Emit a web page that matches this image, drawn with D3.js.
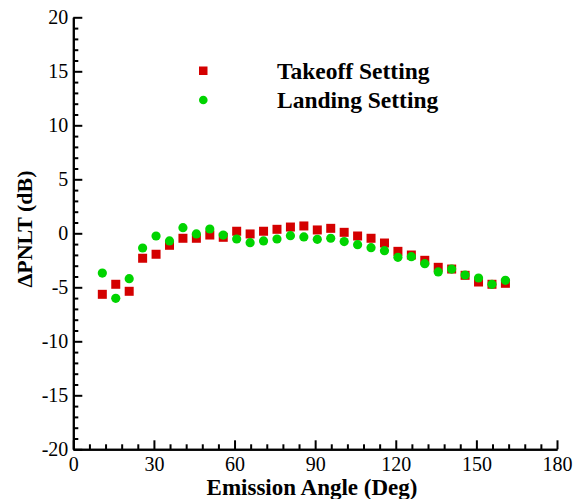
<!DOCTYPE html>
<html>
<head>
<meta charset="utf-8">
<script src="https://cdn.jsdelivr.net/npm/d3@7"></script>
<style>
  body { margin: 0; background: #fff; }
  svg text { font-family: "Liberation Serif", "Times New Roman", serif; }
</style>
</head>
<body>
<div id="chart"></div>
<script>
// emission angles (deg)
let angles = [10.8, 15.8, 20.8, 25.8, 30.8, 35.8, 40.8, 45.8, 50.8, 55.8,
  60.8, 65.8, 70.8, 75.8, 80.8, 85.8, 90.8, 95.8, 100.8, 105.8,
  110.8, 115.8, 120.8, 125.8, 130.8, 135.8, 140.8, 145.8, 150.8, 155.8, 160.8];

let takeoff = [-5.65, -4.72, -5.37, -2.31, -1.94, -1.11, -0.46, -0.46, -0.16, -0.37,
  0.19, -0.06, 0.19, 0.37, 0.58, 0.68, 0.31, 0.46, 0.09, -0.25,
  -0.46, -0.9, -1.67, -2.01, -2.5, -3.15, -3.31, -3.89, -4.51, -4.72, -4.63];

let landing = [-3.68, -6.02, -4.2, -1.36, -0.25, -0.71, 0.52, -0.06, 0.4, -0.16,
  -0.53, -0.87, -0.71, -0.53, -0.22, -0.34, -0.56, -0.46, -0.77, -1.05,
  -1.33, -1.61, -2.22, -2.16, -2.81, -3.58, -3.31, -3.86, -4.14, -4.72, -4.35];

let xTicks = [0, 30, 60, 90, 120, 150, 180];
let yTicks = [-20, -15, -10, -5, 0, 5, 10, 15, 20];

let w = 576, h = 499;
let red = "#d40000", green = "#00d400";

let svg = d3.select("#chart").append("svg")
  .attr("width", w).attr("height", h);

let x = d3.scaleLinear().domain([0, 180]).range([73.3, 557]);
let y = d3.scaleLinear().domain([-20, 20]).range([449.3, 17.3]);

let xMinor = d3.range(0, 181, 6).filter(d => d % 30 != 0);
let yMinor = d3.range(-20, 21, 1).filter(d => d % 5 != 0);

function styleAxis(g) {
  g.select(".domain").attr("stroke-width", 2).attr("stroke", "#000");
  g.selectAll(".tick line").attr("stroke-width", 2).attr("stroke", "#000");
  g.selectAll(".tick text").attr("font-size", 20).attr("fill", "#000");
}

// plain hyphen for negatives, like the original plot
let plain = d => String(d);

// minor ticks first so major ones sit on top
svg.append("g")
  .attr("transform", "translate(0," + y(-20) + ")")
  .call(d3.axisBottom(x).tickValues(xMinor).tickSize(-5).tickSizeOuter(0).tickFormat(""))
  .call(styleAxis);
svg.append("g")
  .attr("transform", "translate(" + x(0) + ",0)")
  .call(d3.axisLeft(y).tickValues(yMinor).tickSize(-5).tickSizeOuter(0).tickFormat(""))
  .call(styleAxis);

let xAxis = svg.append("g")
  .attr("transform", "translate(0," + y(-20) + ")")
  .call(d3.axisBottom(x).tickValues(xTicks).tickSize(-9).tickSizeOuter(0).tickPadding(3).tickFormat(plain))
  .call(styleAxis);
xAxis.selectAll(".tick text").attr("dy", "0.95em");

let yAxis = svg.append("g")
  .attr("transform", "translate(" + x(0) + ",0)")
  .call(d3.axisLeft(y).tickValues(yTicks).tickSize(-9).tickSizeOuter(0).tickPadding(5).tickFormat(plain))
  .call(styleAxis);

// markers
let pts = angles.map(function(a, i) {
  return { a: a, t: takeoff[i], l: landing[i] };
});

svg.append("g").selectAll("rect")
  .data(pts).enter().append("rect")
  .attr("x", d => x(d.a) - 4.5)
  .attr("y", d => y(d.t) - 4.5)
  .attr("width", 9).attr("height", 9)
  .attr("fill", red);

svg.append("g").selectAll("circle")
  .data(pts).enter().append("circle")
  .attr("cx", d => x(d.a))
  .attr("cy", d => y(d.l))
  .attr("r", 4.6)
  .attr("fill", green);

// legend
svg.append("rect").attr("x", 199).attr("y", 66.5).attr("width", 8.5).attr("height", 8.5).attr("fill", red);
svg.append("circle").attr("cx", 203.3).attr("cy", 100).attr("r", 4.3).attr("fill", green);
svg.append("text").attr("x", 277).attr("y", 78.5)
  .attr("font-size", 23.5).attr("font-weight", "bold").text("Takeoff Setting");
svg.append("text").attr("x", 277).attr("y", 107.5)
  .attr("font-size", 23.5).attr("font-weight", "bold").text("Landing Setting");

// axis titles
svg.append("text")
  .attr("x", 312).attr("y", 495)
  .attr("text-anchor", "middle").attr("font-size", 23).attr("font-weight", "bold")
  .text("Emission Angle (Deg)");
svg.append("text")
  .attr("transform", "translate(32,229) rotate(-90)")
  .attr("text-anchor", "middle").attr("font-size", 22).attr("font-weight", "bold")
  .text("ΔPNLT (dB)");
</script>
</body>
</html>
